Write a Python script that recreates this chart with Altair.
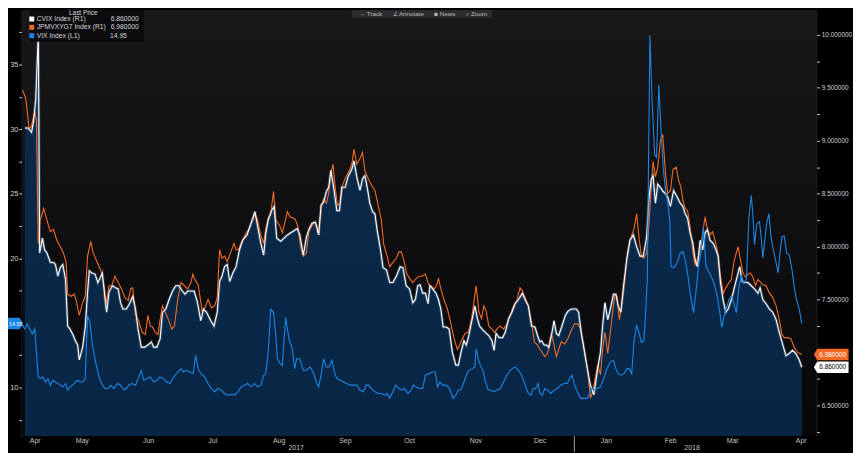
import altair as alt
import pandas as pd

# ---------------------------------------------------------------- data
START = pd.Timestamp("2017-04-17")          # day offsets below count from here
X_DOMAIN = ["2017-04-17T19:00:00", "2018-04-24T02:24:00"]

# (day offset, value) readings
cvix = [(2.2,9.12),(3.7,9.12),(5.3,9.08),(6.3,9.19),(7.3,9.40),(7.9,9.72),(8.5,10.00),(9.1,7.94),(10.4,8.08),(11.4,7.97),
(12.5,7.94),(14.1,7.85),(15.6,7.85),(16.5,7.83),(17.6,7.72),(18.7,7.80),(19.9,7.83),(21.2,7.69),(22.2,7.25),(23.3,7.22),
(24.6,7.17),(25.8,7.11),(26.9,7.07),(27.6,6.93),(29.2,7.05),(30.4,7.24),(31.5,7.57),(32.3,7.77),(33.5,7.75),(35.0,7.74),
(36.3,7.66),(37.5,7.71),(38.4,7.75),(39.7,7.50),(40.4,7.38),(41.5,7.57),(43.1,7.63),(44.6,7.61),(45.8,7.60),(46.9,7.47),
(48.0,7.41),(49.6,7.41),(51.1,7.46),(52.6,7.53),(53.9,7.41),(55.1,7.22),(56.6,7.05),(58.2,7.05),(59.7,7.07),(61.3,7.10),
(62.4,7.05),(63.9,7.05),(65.4,7.13),(66.5,7.38),(68.1,7.41),(69.6,7.50),(71.2,7.58),(72.7,7.63),(74.2,7.63),(75.8,7.58),
(77.0,7.55),(78.3,7.58),(79.8,7.58),(81.3,7.58),(82.9,7.47),(84.4,7.30),(85.7,7.41),(87.1,7.38),(89.1,7.30),(90.6,7.25),
(92.1,7.38),(93.2,7.67),(94.3,7.72),(95.5,7.81),(96.8,7.83),(97.9,7.67),(99.4,7.75),(100.9,7.81),(102.5,7.97),(104.0,8.06),
(106.0,8.11),(107.9,8.22),(109.7,8.33),(111.0,8.19),(112.5,8.03),(113.8,7.92),(114.8,8.13),(115.9,8.25),(117.5,8.34),(118.7,8.38),
(119.9,8.08),(121.8,8.05),(123.3,8.08),(124.9,8.11),(127.2,8.14),(129.5,8.17),(130.7,8.11),(132.3,7.92),(133.8,8.09),(134.9,8.16),
(136.4,8.22),(138.0,8.23),(139.5,8.11),(140.6,8.39),(141.8,8.42),(143.1,8.52),(144.2,8.56),(145.2,8.72),(146.5,8.56),(148.0,8.34),
(149.2,8.34),(150.3,8.56),(151.9,8.56),(153.4,8.67),(155.0,8.73),(156.0,8.81),(157.3,8.66),(158.8,8.53),(160.0,8.64),(161.1,8.67),
(162.2,8.56),(163.4,8.41),(164.7,8.33),(165.8,8.31),(166.8,8.16),(168.4,7.97),(169.6,7.80),(171.2,7.78),(172.7,7.66),(174.2,7.66),
(175.8,7.72),(177.6,7.81),(178.9,7.80),(180.4,7.63),(182.0,7.60),(183.5,7.47),(184.7,7.50),(185.8,7.63),(186.9,7.64),(188.1,7.56),
(189.4,7.56),(190.6,7.46),(191.5,7.63),(192.8,7.60),(194.3,7.56),(195.5,7.50),(196.6,7.41),(197.7,7.24),(199.2,7.24),(200.5,7.22),
(202.0,7.00),(203.6,6.88),(204.8,6.88),(206.0,7.00),(207.4,7.11),(208.5,7.07),(209.7,7.16),(211.3,7.32),(212.5,7.44),(213.7,7.32),
(214.7,7.25),(215.9,7.22),(217.4,7.19),(219.0,7.16),(220.5,7.11),(221.5,7.02),(222.4,7.18),(223.9,7.14),(225.5,7.14),(226.7,7.19),
(228.3,7.32),(229.8,7.38),(231.3,7.46),(232.9,7.50),(234.7,7.56),(236.0,7.50),(237.5,7.44),(239.0,7.25),(240.6,7.24),(241.8,7.16),
(242.9,7.10),(243.7,7.11),(244.9,7.07),(246.0,7.07),(247.1,7.05),(248.3,7.16),(249.5,7.30),(250.6,7.18),(251.7,7.16),(253.2,7.25),
(254.8,7.35),(256.0,7.39),(257.6,7.41),(259.9,7.41),(261.0,7.38),(262.2,7.19),(263.8,7.00),(265.3,6.82),(266.5,6.69),(268.1,6.60),
(269.2,6.75),(269.9,6.85),(271.2,7.00),(272.2,7.25),(273.3,7.47),(274.6,7.31),(275.8,7.41),(277.3,7.55),(278.4,7.55),(279.5,7.44),
(280.7,7.38),(282.0,7.63),(283.5,7.88),(285.0,8.06),(286.6,8.11),(288.1,8.00),(289.7,7.91),(291.2,7.91),(292.8,8.09),(293.8,8.44),
(294.9,8.63),(295.8,8.67),(296.9,8.41),(298.0,8.59),(299.2,8.56),(300.5,8.52),(301.6,8.50),(302.6,8.47),(303.9,8.38),(305.4,8.53),
(307.0,8.47),(308.5,8.41),(309.7,8.38),(310.8,8.31),(311.9,8.27),(313.1,8.13),(314.4,8.03),(315.4,7.88),(316.5,7.81),(317.8,8.06),
(319.0,7.97),(320.1,8.13),(321.2,8.16),(322.4,8.06),(323.9,8.03),(325.2,7.97),(326.2,7.91),(327.3,7.66),(328.6,7.49),(329.8,7.38),
(330.9,7.41),(332.4,7.50),(334.0,7.63),(335.5,7.75),(336.3,7.81),(337.5,7.67),(338.6,7.66),(340.1,7.66),(341.7,7.63),(343.2,7.60),
(344.8,7.56),(345.8,7.61),(347.1,7.50),(348.6,7.46),(350.2,7.41),(351.7,7.38),(353.3,7.31),(354.8,7.19),(356.3,7.08),(357.9,6.97),
(359.4,6.99),(361.0,7.02),(362.5,6.99),(364.1,6.93),(365.3,6.86)]

jpm = [(1.1,9.48),(2.6,9.40),(4.2,9.11),(5.3,9.14),(6.8,9.28),(7.6,9.19),(8.4,8.03),(9.4,8.25),(11.0,8.36),(12.5,8.25),
(14.1,8.14),(15.6,8.16),(17.1,8.06),(18.7,8.00),(20.2,7.94),(21.5,7.85),(22.2,7.55),(23.8,7.53),(25.3,7.55),(26.4,7.47),
(27.6,7.35),(29.2,7.47),(30.4,7.53),(31.5,7.91),(33.0,8.05),(34.1,7.94),(35.4,7.88),(36.9,7.81),(38.1,7.75),(39.2,7.63),
(40.3,7.46),(41.5,7.63),(42.8,7.63),(44.3,7.72),(45.8,7.66),(47.4,7.60),(48.9,7.52),(50.5,7.49),(51.6,7.60),(52.6,7.61),
(53.9,7.35),(55.4,7.30),(57.0,7.19),(58.5,7.17),(59.7,7.35),(60.8,7.25),(61.9,7.24),(63.1,7.19),(64.4,7.17),(65.4,7.31),
(66.5,7.44),(67.8,7.38),(69.3,7.31),(70.8,7.22),(72.1,7.25),(73.6,7.50),(75.2,7.66),(76.7,7.63),(78.3,7.60),(79.8,7.66),
(80.7,7.74),(81.6,7.69),(83.2,7.64),(84.0,7.53),(85.0,7.39),(86.3,7.42),(87.8,7.50),(89.4,7.42),(90.9,7.44),(92.1,7.52),
(93.2,7.97),(94.3,7.89),(95.5,7.91),(96.8,7.86),(98.3,7.94),(99.9,8.03),(100.9,7.97),(102.0,7.97),(103.6,8.05),(105.6,8.13),
(107.1,8.17),(108.7,8.25),(109.7,8.31),(111.0,8.25),(112.2,8.13),(113.8,8.03),(114.8,8.16),(115.9,8.27),(117.1,8.31),(118.4,8.52),
(119.5,8.25),(121.5,8.19),(122.5,8.13),(123.6,8.22),(124.9,8.33),(126.1,8.28),(127.6,8.27),(128.7,8.25),(129.8,8.19),(131.0,8.00),
(132.3,7.91),(133.8,7.94),(134.9,8.14),(136.4,8.20),(137.5,8.23),(138.8,8.19),(139.5,8.11),(140.8,8.38),(141.8,8.45),(143.1,8.41),
(144.2,8.50),(145.2,8.69),(146.2,8.78),(147.2,8.56),(148.3,8.39),(149.6,8.41),(150.8,8.59),(152.3,8.66),(153.9,8.72),(155.0,8.78),
(156.0,8.92),(157.3,8.78),(158.8,8.83),(160.0,8.89),(161.1,8.72),(162.7,8.64),(164.2,8.58),(165.8,8.53),(167.3,8.39),(168.8,8.25),
(169.9,8.02),(171.5,7.91),(172.7,7.81),(174.2,7.85),(175.8,7.89),(177.0,7.95),(178.1,7.95),(179.2,7.88),(180.7,7.74),(182.0,7.70),
(183.5,7.66),(184.7,7.69),(186.3,7.72),(187.8,7.72),(189.4,7.74),(190.9,7.64),(192.0,7.63),(193.5,7.60),(194.6,7.63),(195.5,7.70),
(196.6,7.60),(198.2,7.49),(199.7,7.41),(201.2,7.28),(202.8,7.13),(204.3,7.03),(205.4,7.07),(206.6,7.13),(207.9,7.18),(209.4,7.19),
(211.0,7.32),(212.0,7.47),(213.1,7.63),(214.4,7.38),(215.6,7.32),(216.7,7.44),(217.8,7.39),(219.0,7.25),(220.5,7.22),(221.8,7.19),
(222.8,7.22),(224.4,7.25),(225.9,7.22),(227.5,7.27),(229.0,7.35),(230.6,7.44),(232.1,7.49),(233.6,7.61),(234.7,7.58),(236.3,7.50),
(237.5,7.44),(239.0,7.28),(240.3,7.10),(241.8,7.07),(242.9,7.03),(244.0,7.00),(245.2,6.96),(246.5,6.99),(247.5,7.11),(248.3,7.18),
(249.5,7.07),(250.6,6.96),(251.7,7.03),(252.9,7.10),(254.5,7.08),(256.0,7.13),(257.6,7.21),(259.1,7.27),(260.7,7.27),(261.9,7.22),
(263.0,7.10),(264.1,6.97),(265.3,6.82),(266.5,6.57),(267.6,6.63),(268.7,6.75),(269.9,6.88),(271.2,6.79),(272.2,7.03),(273.3,7.19),
(274.6,6.99),(275.8,7.19),(276.9,7.38),(277.9,7.55),(278.9,7.53),(280.0,7.31),(281.0,7.41),(282.3,7.63),(283.8,7.94),(285.0,8.06),
(286.9,8.17),(288.1,8.31),(289.2,8.09),(290.3,7.91),(291.5,7.89),(292.8,7.94),(293.8,8.19),(294.9,8.56),(295.8,8.80),(296.9,8.66),
(298.0,8.75),(299.2,9.00),(300.3,9.06),(301.6,8.69),(302.6,8.50),(303.9,8.53),(305.1,8.73),(306.6,8.75),(307.7,8.63),(308.8,8.56),
(309.7,8.44),(310.8,8.36),(311.9,8.34),(313.1,8.19),(314.4,7.94),(315.4,7.83),(316.5,7.88),(317.8,7.97),(319.0,8.13),(320.1,8.28),
(321.2,8.16),(322.4,8.11),(323.6,8.14),(324.9,8.05),(326.2,7.92),(327.3,7.72),(328.6,7.56),(329.8,7.61),(331.3,7.66),(332.4,7.69),
(333.5,7.85),(334.7,7.94),(335.5,8.00),(336.6,7.88),(337.8,7.75),(339.1,7.71),(340.1,7.74),(341.2,7.75),(342.5,7.71),(343.7,7.63),
(344.8,7.69),(345.8,7.67),(347.1,7.64),(348.6,7.63),(350.2,7.56),(351.7,7.52),(353.3,7.44),(354.8,7.31),(356.0,7.17),(357.1,7.14),
(358.7,7.14),(360.2,7.13),(361.7,7.05),(363.3,7.00),(365.3,6.98)]

vix = [(0.5,15.04),(1.1,14.78),(2.2,14.53),(3.3,14.91),(4.5,14.53),(5.7,14.14),(6.8,14.53),(7.6,12.74),(8.4,10.82),(9.4,10.69),
(10.7,10.82),(11.9,10.43),(13.0,10.69),(14.1,10.18),(15.3,10.56),(16.5,10.43),(17.6,10.31),(18.7,10.18),(19.9,10.05),(21.2,10.31),
(22.2,9.80),(23.3,10.05),(24.6,10.18),(25.8,10.43),(26.9,10.56),(28.0,10.43),(29.2,10.43),(30.4,10.69),(31.5,15.55),(32.6,15.04),
(33.8,13.25),(35.4,11.84),(36.9,10.82),(38.4,10.18),(39.7,9.92),(41.2,9.92),(42.3,10.18),(43.8,9.92),(45.4,10.31),(46.9,10.18),
(48.5,9.80),(49.6,9.92),(50.8,10.18),(52.3,10.31),(53.9,10.18),(55.1,10.69),(56.6,11.33),(57.7,10.56),(59.3,10.69),(60.8,10.82),
(62.4,10.43),(63.9,10.56),(65.4,10.82),(67.0,10.69),(68.5,10.43),(70.1,10.31),(71.2,10.69),(72.4,10.95),(73.6,11.20),(75.2,11.46),
(76.3,11.20),(77.8,11.33),(79.3,11.20),(80.9,11.07),(82.0,12.48),(83.2,11.46),(84.4,11.07),(85.5,10.95),(86.6,10.69),(87.8,10.31),
(89.4,9.92),(90.9,9.67),(92.5,9.92),(94.0,9.80),(95.5,9.54),(97.1,9.41),(98.6,9.46),(100.2,9.41),(101.7,9.67),(103.3,10.05),
(104.8,10.18),(106.3,10.31),(107.9,10.05),(109.4,10.31),(111.0,10.05),(112.5,10.18),(113.8,10.95),(114.8,11.07),(115.9,12.74),(117.1,16.06),
(118.4,15.80),(119.5,14.01),(120.2,12.22),(121.5,11.84),(122.5,11.71),(124.1,15.42),(125.6,13.76),(127.2,12.99),(128.3,11.46),(129.2,12.22),
(130.7,12.22),(132.3,11.33),(133.8,11.33),(135.4,11.59),(136.9,11.20),(138.4,10.43),(139.5,10.05),(140.6,10.95),(141.8,12.22),(143.1,11.59),
(144.2,11.59),(145.7,12.10),(146.8,11.20),(148.0,10.69),(149.6,10.56),(151.1,10.44),(152.6,10.31),(154.2,10.18),(155.7,10.18),(157.3,10.18),
(158.8,9.80),(160.4,9.67),(161.6,10.18),(162.7,10.18),(164.2,9.92),(165.8,9.67),(167.3,9.54),(168.8,9.54),(170.4,9.41),(171.5,9.54),
(172.7,9.16),(174.2,9.67),(175.5,10.18),(177.0,9.92),(178.6,9.80),(179.6,9.92),(181.2,9.54),(182.7,9.80),(183.8,10.18),(185.0,10.05),
(186.6,9.92),(188.1,9.92),(189.4,10.95),(190.9,11.07),(192.5,11.20),(194.0,11.20),(195.1,10.05),(196.2,10.43),(197.4,10.18),(198.9,10.18),
(200.2,10.05),(201.2,9.67),(202.3,9.16),(203.6,9.41),(204.8,9.80),(206.0,9.80),(207.4,10.43),(208.5,10.95),(209.7,11.33),(211.3,11.46),
(212.5,11.59),(213.1,12.99),(214.1,12.22),(215.1,11.71),(216.2,11.33),(217.5,10.43),(218.7,9.80),(219.8,9.80),(221.3,9.67),(222.9,9.80),
(224.4,9.92),(225.9,10.43),(227.5,10.95),(229.0,11.33),(230.1,11.46),(231.3,11.59),(232.9,11.33),(234.4,10.95),(236.0,10.18),(237.5,9.54),
(238.7,9.41),(239.8,9.92),(240.9,9.92),(242.1,10.31),(242.9,9.54),(244.0,9.41),(245.2,9.92),(246.5,9.80),(248.0,9.54),(249.5,9.80),
(251.1,9.92),(252.6,10.18),(254.2,10.31),(255.7,10.31),(256.8,10.69),(257.9,10.95),(259.1,10.18),(260.4,9.67),(261.9,9.16),(263.4,9.16),
(265.0,9.16),(266.1,9.54),(267.1,9.92),(268.4,9.80),(269.6,9.92),(271.2,10.05),(272.7,10.69),(274.2,11.46),(275.8,11.97),(277.3,12.10),
(278.4,11.46),(279.5,11.07),(280.7,10.95),(282.3,11.07),(283.5,11.46),(284.6,11.46),(285.8,11.07),(286.9,13.63),(288.1,14.78),(289.2,14.27),
(290.3,13.50),(291.5,13.63),(292.3,15.80),(293.1,18.36),(294.3,37.27),(295.4,31.91),(296.5,28.07),(297.4,27.82),(298.5,33.44),(299.6,29.61),
(300.5,27.05),(301.6,25.26),(302.6,24.37),(303.6,22.96),(304.2,19.38),(305.4,19.25),(307.0,19.64),(308.5,20.40),(309.7,20.53),(310.8,19.89),
(311.9,18.87),(313.1,17.34),(314.7,15.80),(315.8,17.34),(317.0,19.38),(318.1,20.40),(319.3,22.45),(320.5,19.38),(322.1,18.87),(323.6,18.36),
(324.7,17.85),(325.8,17.08),(327.0,15.80),(327.9,14.65),(329.0,15.55),(330.1,16.19),(331.3,16.83),(332.4,17.08),(333.5,16.57),(334.7,15.80),
(336.0,17.85),(337.1,18.61),(338.1,18.10),(339.4,18.36),(340.6,23.22),(341.7,24.88),(342.5,23.22),(343.2,21.04),(344.3,22.70),(345.5,22.83),
(346.3,21.68),(347.1,20.02),(348.2,21.68),(348.9,22.70),(349.9,23.47),(350.9,21.68),(352.0,20.66),(353.3,19.64),(354.2,18.87),(355.1,20.40),
(356.0,21.68),(357.1,21.73),(358.2,20.40),(359.4,20.28),(360.7,19.13),(361.7,17.85),(362.8,16.83),(364.1,16.06),(365.3,14.95)]

legend_names = ["CVIX Index  (R1)", "JPMVXYG7 Index  (R1)", "VIX Index  (L1)"]
legend_values = ["6.860000", "6.980000", "14.95"]
series_colors = ["#ffffff", "#f26a22", "#1a86e6"]

month_labels = ["Apr", "May", "Jun", "Jul", "Aug", "Sep", "Oct", "Nov", "Dec", "Jan", "Feb", "Mar", "Apr"]
month_label_dates = ["2017-04-24", "2017-05-16", "2017-06-16", "2017-07-16", "2017-08-16", "2017-09-16",
                     "2017-10-16", "2017-11-16", "2017-12-16", "2018-01-16", "2018-02-15", "2018-03-16", "2018-04-17"]
month_starts = [(2017, 5), (2017, 6), (2017, 7), (2017, 8), (2017, 9), (2017, 10), (2017, 11), (2017, 12),
                (2018, 1), (2018, 2), (2018, 3), (2018, 4)]
year_labels = ["2017", "2018"]
year_label_dates = ["2017-08-24", "2018-02-25"]
year_break = "2018-01-01"

left_ticks = [7.5, 10, 12.5, 15, 17.5, 20, 22.5, 25, 27.5, 30, 32.5, 35, 37.5]
right_ticks = [6.25, 6.5, 6.75, 7.0, 7.25, 7.5, 7.75, 8.0, 8.25, 8.5, 8.75, 9.0, 9.25, 9.5, 9.75, 10.0, 10.25]
toolbar_items = ["→ Track", "∠ Annotate", "■ News", "⌕ Zoom"]

LEFT_DOMAIN = [6.24, 39.22]
RIGHT_DOMAIN = [6.21, 10.234]

# ---------------------------------------------------------------- frames
def frame(pairs):
    days, vals = zip(*pairs)
    return pd.DataFrame({"date": START + pd.to_timedelta(list(days), unit="D"), "value": list(vals)})

df_cvix, df_jpm, df_vix = frame(cvix), frame(jpm), frame(vix)
one = pd.DataFrame({"a": [0]})

W, H = 802, 430
FONT = "Liberation Sans, Arial, sans-serif"
XS = alt.Scale(domain=X_DOMAIN)
RS = alt.Scale(domain=RIGHT_DOMAIN, zero=False, nice=False)
LS = alt.Scale(domain=LEFT_DOMAIN, zero=False, nice=False)
xnone = alt.X("date:T", scale=XS, axis=None)

bg = alt.Chart(one).mark_rect(
    color=alt.Gradient(gradient="linear", x1=0, x2=0, y1=0, y2=1,
                       stops=[alt.GradientStop(color="#18181b", offset=0),
                              alt.GradientStop(color="#070709", offset=1)])
).encode(x=alt.value(0), x2=alt.value(W), y=alt.value(0), y2=alt.value(H))

right_axis = alt.Axis(orient="right", values=right_ticks, format=".6f",
                      labelExpr="(datum.value * 2 == round(datum.value * 2) && datum.value != 7) ? datum.label : ''",
                      tickSize=3, tickColor="#e0e0e0", domainColor="#2a2a2a", labelColor="#d0d0d0",
                      labelFontSize=6.5, labelFont=FONT, labelPadding=2, grid=False, title=None,
                      labelOverlap=False, labelBound=False, labelFlush=False)
x_axis = alt.Axis(values=[alt.DateTime(year=y, month=m, date=1) for y, m in month_starts],
                  labels=False, tickSize=3, tickColor="#a0a0a0", domain=False, grid=False, title=None)

area = alt.Chart(df_cvix).mark_area(
    clip=True,
    color=alt.Gradient(gradient="linear", x1=0, x2=0, y1=0, y2=1,
                       stops=[alt.GradientStop(color="#0b2a4a", offset=0),
                              alt.GradientStop(color="#02203d", offset=1)])
).encode(x=alt.X("date:T", scale=XS, axis=x_axis),
         y=alt.Y("value:Q", scale=RS, axis=right_axis))

glow = alt.Chart(df_cvix).mark_line(clip=True, color="#8fbfe8", strokeWidth=3, opacity=0.28).encode(
    x=xnone, y=alt.Y("value:Q", scale=RS, axis=None))
jpm_line = alt.Chart(df_jpm).mark_line(clip=True, color=series_colors[1], strokeWidth=1.1).encode(
    x=xnone, y=alt.Y("value:Q", scale=RS, axis=None))
cvix_line = alt.Chart(df_cvix).mark_line(clip=True, color=series_colors[0], strokeWidth=1.1).encode(
    x=xnone, y=alt.Y("value:Q", scale=RS, axis=None))

left_axis = alt.Axis(orient="left", values=left_ticks, format=".0f",
                     labelExpr="(datum.value % 5 == 0 && datum.value != 15) ? datum.label : ''",
                     tickSize=3, tickColor="#e0e0e0", domainColor="#9a9a9a", labelColor="#d0d0d0",
                     labelFontSize=7.5, labelFont=FONT, labelPadding=1, grid=False, title=None,
                     labelOverlap=False, labelBound=False, labelFlush=False)
vix_line = alt.Chart(df_vix).mark_line(clip=True, color=series_colors[2], strokeWidth=1.1).encode(
    x=xnone, y=alt.Y("value:Q", scale=LS, axis=left_axis))

# bottom labels
df_months = pd.DataFrame({"date": pd.to_datetime(month_label_dates), "label": month_labels})
months = alt.Chart(df_months).mark_text(font=FONT, fontSize=7, color="#c0c0c0", baseline="middle").encode(
    x=xnone, y=alt.value(H + 5), text="label:N")
df_years = pd.DataFrame({"date": pd.to_datetime(year_label_dates), "label": year_labels})
years = alt.Chart(df_years).mark_text(font=FONT, fontSize=7, color="#c0c0c0", baseline="middle").encode(
    x=xnone, y=alt.value(H + 12), text="label:N")
ybreak = alt.Chart(pd.DataFrame({"date": pd.to_datetime([year_break])})).mark_rule(
    color="#a0a0a0", strokeWidth=1).encode(x=xnone, y=alt.value(H), y2=alt.value(H + 16))

# last-price tags (right scale)
TAG = "M-1,0 L-0.8,-0.33 L1,-0.33 L1,0.33 L-0.8,0.33 Z"
df_rtags = pd.DataFrame({"value": [6.98, 6.86], "label": ["6.980000", "6.860000"],
                         "fill": ["#f26a22", "#ffffff"], "ink": ["#ffffff", "#000000"]})
rtag_box = alt.Chart(df_rtags).mark_point(shape=TAG, filled=True, size=35 * 35, opacity=1, strokeWidth=0).encode(
    x=alt.value(W + 15), y=alt.Y("value:Q", scale=RS, axis=None),
    color=alt.Color("fill:N", scale=None))
rtag_text = alt.Chart(df_rtags).mark_text(font=FONT, fontSize=6.5, align="left", baseline="middle").encode(
    x=alt.value(W + 3), y=alt.Y("value:Q", scale=RS, axis=None), text="label:N",
    color=alt.Color("ink:N", scale=None))

# last-price tag (left scale)
LTAG = "M1,0 L0.8,-0.36 L-1,-0.36 L-1,0.36 L0.8,0.36 Z"
df_ltag = pd.DataFrame({"value": [14.95], "label": [legend_values[2]]})
ltag_box = alt.Chart(df_ltag).mark_point(shape=LTAG, filled=True, size=32 * 32, opacity=1, strokeWidth=0,
                                         color="#1a86e6").encode(
    x=alt.value(-15), y=alt.Y("value:Q", scale=LS, axis=None))
ltag_text = alt.Chart(df_ltag).mark_text(font=FONT, fontSize=5.4, align="right", baseline="middle",
                                         color="#ffffff").encode(
    x=alt.value(0.5), y=alt.Y("value:Q", scale=LS, axis=None), text="label:N")

# legend box (top-left)
layers_legend = [alt.Chart(one).mark_rect(color="#0b0b0d").encode(
    x=alt.value(8), x2=alt.value(123), y=alt.value(0), y2=alt.value(32))]
layers_legend.append(alt.Chart(one).mark_text(text="Last Price", font=FONT, fontSize=6.5, color="#d8d8d8",
                                              baseline="top").encode(x=alt.value(62), y=alt.value(0)))
for i, (name, val, col) in enumerate(zip(legend_names, legend_values, series_colors)):
    yy = 9.0 + 8.4 * i
    layers_legend.append(alt.Chart(one).mark_rect(color=col).encode(
        x=alt.value(7.5), x2=alt.value(12.5), y=alt.value(yy - 2.5), y2=alt.value(yy + 2.5)))
    layers_legend.append(alt.Chart(one).mark_text(text=name, font=FONT, fontSize=6.8, color="#d8d8d8",
                                                  align="left", baseline="middle").encode(
        x=alt.value(15), y=alt.value(yy)))
    layers_legend.append(alt.Chart(one).mark_text(text=val, font=FONT, fontSize=6.8, color="#d8d8d8",
                                                  align="right", baseline="middle").encode(
        x=alt.value(118 if i < 2 else 106), y=alt.value(yy)))

# toolbar (top-centre)
layers_tool = [alt.Chart(one).mark_rect(color="#2b2b2e").encode(
    x=alt.value(333), x2=alt.value(475), y=alt.value(0), y2=alt.value(8))]
for item, cx in zip(toolbar_items, [352, 390, 427, 459]):
    layers_tool.append(alt.Chart(one).mark_text(text=item, font=FONT, fontSize=6.3, color="#bdbdbd",
                                                baseline="middle").encode(x=alt.value(cx), y=alt.value(4)))

chart = alt.layer(
    bg, area, glow, jpm_line, cvix_line, vix_line,
    months, years, ybreak, rtag_box, rtag_text, ltag_box, ltag_text,
    *layers_legend, *layers_tool
).resolve_scale(y="independent").properties(
    width=W, height=H,
    padding={"left": 14, "top": 0, "right": 37, "bottom": 16},
    autosize=alt.AutoSizeParams(type="none"),
    background="#000000",
).configure_view(stroke=None)

chart.save("out.html", embed_options={"renderer": "svg", "actions": False})
